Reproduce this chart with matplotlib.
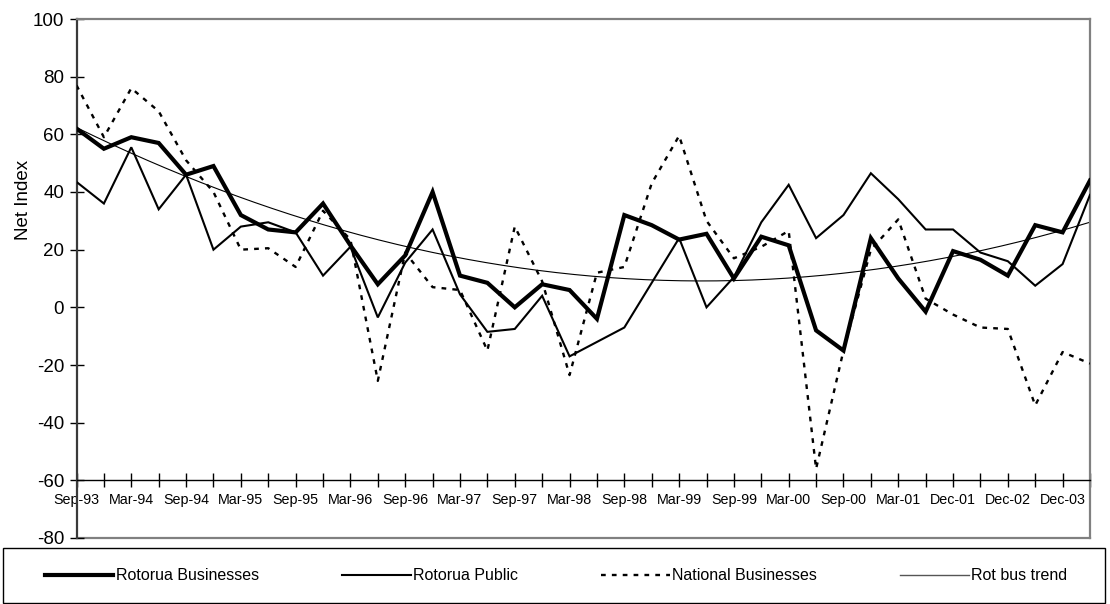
import numpy as np
import matplotlib
matplotlib.use("Agg")
import matplotlib.pyplot as plt
from matplotlib.lines import Line2D
from matplotlib.patches import Rectangle

plt.rcParams['font.family'] = ['Liberation Sans', 'DejaVu Sans']

# Survey quarters
quarters = ['Sep-93', 'Dec-93', 'Mar-94', 'Jun-94', 'Sep-94', 'Dec-94', 'Mar-95', 'Jun-95',
            'Sep-95', 'Dec-95', 'Mar-96', 'Jun-96', 'Sep-96', 'Dec-96', 'Mar-97', 'Jun-97',
            'Sep-97', 'Dec-97', 'Mar-98', 'Jun-98', 'Sep-98', 'Dec-98', 'Mar-99', 'Jun-99',
            'Sep-99', 'Dec-99', 'Mar-00', 'Jun-00', 'Sep-00', 'Dec-00', 'Mar-01', 'Jun-01',
            'Dec-01', 'Jun-02', 'Dec-02', 'Jun-03', 'Dec-03', 'Jun-04']

rotorua_businesses = [62, 55, 59, 57, 46, 49, 32, 27, 26, 36, 21.5, 8, 18, 40, 11, 8.5,
                      0, 8, 6, -4, 32, 28.5, 23.5, 25.5, 10, 24.5, 21.5, -8, -15, 24,
                      10, -1.5, 19.5, 16.5, 11, 28.5, 26, 44]
rotorua_public = [43.5, 36, 55.5, 34, 46, 20, 28, 29.5, 26, 11, 21, -3.5, 15.5, 27, 4.5, -8.5,
                  -7.5, 4, -17, -12, -7, 8.5, 24, 0, 10.5, 29.5, 42.5, 24, 32, 46.5,
                  37.5, 27, 27, 19, 16, 7.5, 15, 39]
national_businesses = [77, 59, 76, 68, 51, 40, 20, 20.5, 14, 33.5, 23.5, -25.5, 19, 7, 6, -15,
                       28, 9, -23.5, 12, 14, 43, 59.5, 30, 17, 21, 26.5, -56, -15, 20,
                       30.5, 3, -2.5, -7, -7.5, -34, -15.5, -19.5]

y_ticks = list(range(-80, 101, 20))

W, H = 1110, 604
fig = plt.figure(figsize=(W / 100, H / 100), dpi=100)
ax = fig.add_axes([76.5 / W, 1 - 538 / H, (1090 - 76.5) / W, (538 - 19) / H])

x = np.arange(len(quarters))

# Second-order polynomial trend through the Rotorua business series
coef = np.polyfit(x, rotorua_businesses, 2)
xs = np.linspace(0, len(quarters) - 1, 400)
trend = np.polyval(coef, xs)

ax.plot(xs, trend, color='black', lw=0.8, zorder=2)
ax.plot(x, national_businesses, color='black', lw=1.7, linestyle=(0, (2, 2.6)), zorder=3)
ax.plot(x, rotorua_public, color='black', lw=1.5, zorder=4, solid_joinstyle='miter')
ax.plot(x, rotorua_businesses, color='black', lw=3.0, zorder=5, solid_joinstyle='miter')

ax.set_xlim(0, len(quarters) - 1)
ax.set_ylim(-80, 100)

# Category axis crosses at -60
ax.spines['bottom'].set_position(('data', -60))
ax.spines['bottom'].set_color('black')
ax.spines['bottom'].set_linewidth(1.0)
for s in ('top', 'right'):
    ax.spines[s].set_color('#808080')
    ax.spines[s].set_linewidth(1.6)
ax.spines['left'].set_color('#3a3a3a')
ax.spines['left'].set_linewidth(1.6)
ax.axhline(-80, color='#808080', lw=1.6, clip_on=False, zorder=1)

ax.set_xticks(x)
ax.set_xticklabels([q if i % 2 == 0 else '' for i, q in enumerate(quarters)])
ax.tick_params(axis='x', direction='inout', length=10, width=1.0, pad=4,
               labelsize=10.3, colors='black')
ax.set_yticks(y_ticks)
ax.set_yticklabels([str(v) for v in y_ticks])
ax.tick_params(axis='y', direction='inout', length=10, width=1.0, pad=4,
               labelsize=13.5, colors='black')

fig.text(23 / W, 1 - 200 / H, 'Net Index', rotation=90, ha='center', va='center',
         fontsize=13.5)

# Legend box
fig.patches.append(Rectangle((3 / W, 1 - 603 / H), 1102 / W, 55 / H,
                             transform=fig.transFigure, fill=False,
                             edgecolor='black', lw=1.0))
handles = [
    Line2D([], [], color='black', lw=3.0),
    Line2D([], [], color='black', lw=1.5),
    Line2D([], [], color='black', lw=1.7, linestyle=(0, (2, 2.6))),
    Line2D([], [], color='#555555', lw=1.0),
]
labels = ['Rotorua Businesses', 'Rotorua Public', 'National Businesses', 'Rot bus trend']
fig.legend(handles, labels, ncol=4, loc='center',
           bbox_to_anchor=(556 / W, 1 - 576 / H), frameon=False,
           fontsize=11.5, handlelength=4.3, handletextpad=0.15,
           columnspacing=5.2)

fig.savefig('out.png', dpi=100)
